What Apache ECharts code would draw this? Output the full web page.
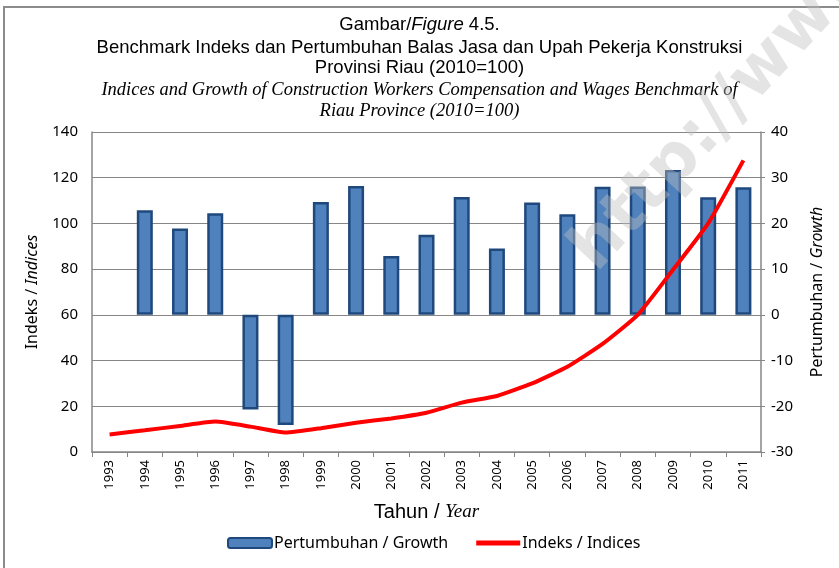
<!DOCTYPE html>
<html>
<head>
<meta charset="utf-8">
<script src="https://cdn.jsdelivr.net/npm/echarts@6/dist/echarts.min.js"></script>
<style>
  html, body { margin: 0; padding: 0; background: #fff; }
  #chart { width: 839px; height: 568px; }
</style>
</head>
<body>
<div id="chart"></div>
<script>
  // data
  const years = ['1993', '1994', '1995', '1996', '1997', '1998', '1999', '2000', '2001', '2002',
    '2003', '2004', '2005', '2006', '2007', '2008', '2009', '2010', '2011']
  // Pertumbuhan / Growth (right axis, %)
  const growth = [null, 22.9, 18.9, 22.2, -20.7, -24.1, 24.7, 28.2, 12.9, 17.5,
    25.8, 14.5, 24.6, 22.0, 28.0, 28.1, 31.7, 25.7, 27.9]
  // Indeks / Indices (left axis, 2010=100)
  const indices = [7.7, 9.5, 11.4, 13.3, 11.1, 8.5, 10.4, 12.8, 14.7, 17.2,
    21.6, 24.5, 30.0, 37.3, 47.3, 60.0, 79.7, 100.0, 127.6]
  const leftTicks = [0, 140, 20]
  const rightTicks = [-30, 40, 10]

  const sans = 'Noto Sans'
  const narrow = '"Liberation Sans Narrow", "Liberation Sans", sans-serif'
  const serif = '"Liberation Serif", serif'

  // one title entry per line, each centred
  const titleLine = (text, top, rich) => ({
    left: 'center',
    top: top,
    text: text,
    textStyle: { rich: rich }
  })
  const plain = {
    a: { fontFamily: narrow, fontSize: 18.5, fontWeight: 'normal', color: '#000' },
    ai: { fontFamily: narrow, fontSize: 18.5, fontWeight: 'normal', fontStyle: 'italic', color: '#000' }
  }
  const ital = {
    s: { fontFamily: serif, fontSize: 18.5, fontWeight: 'normal', fontStyle: 'italic', color: '#000' }
  }

  const chart = echarts.init(document.getElementById('chart'))
  chart.setOption({
    backgroundColor: '#fff',
    animation: false,
    title: [
      titleLine('{a|Gambar/}{ai|Figure}{a| 4.5.}', 10, plain),
      titleLine('{a|Benchmark Indeks dan Pertumbuhan Balas Jasa dan Upah Pekerja Konstruksi}', 33, plain),
      titleLine('{a|Provinsi Riau (2010=100)}', 53, plain),
      titleLine('{s|Indices and Growth of Construction Workers Compensation and Wages Benchmark of}', 76, ital),
      titleLine('{s|Riau Province (2010=100)}', 97, ital)
    ],
    graphic: [
      {
        type: 'rect',
        shape: { x: 4, y: 7, width: 900, height: 700 },
        style: { fill: 'none', stroke: '#8c8c8c', lineWidth: 2 },
        silent: true
      },
      {
        type: 'text',
        x: 608,
        y: 284,
        rotation: Math.PI * 47 / 180,
        z: 100,
        style: {
          text: 'http://www.bps.go.id',
          font: 'bold 66px "DejaVu Sans"',
          verticalAlign: 'bottom',
          fill: 'rgba(190,190,190,0.42)'
        },
        silent: true
      }
    ],
    legend: {
      left: 222,
      top: 530,
      itemWidth: 44,
      itemHeight: 10,
      itemGap: 28,
      textStyle: { fontFamily: sans, fontSize: 16, color: '#000', padding: [0, 0, 0, -3] },
      data: [
        { name: 'Pertumbuhan / Growth' },
        { name: 'Indeks / Indices', icon: 'path://M0,0 L44,0 L44,5 L0,5 Z' }
      ]
    },
    grid: {
      left: 92,
      right: 78,
      top: 132,
      bottom: 116
    },
    xAxis: {
      type: 'category',
      data: years,
      boundaryGap: true,
      name: '{a|Tahun / }{b|Year}',
      nameLocation: 'middle',
      nameGap: 50,
      nameTextStyle: {
        rich: {
          a: { fontFamily: narrow, fontSize: 20, color: '#000' },
          b: { fontFamily: serif, fontSize: 19, fontStyle: 'italic', color: '#000' }
        }
      },
      axisLine: { lineStyle: { color: '#868686', width: 1.5 } },
      axisTick: { show: true, alignWithLabel: false, length: 5, lineStyle: { color: '#868686' } },
      axisLabel: { rotate: 90, interval: 0, fontFamily: sans, fontSize: 13, color: '#000', margin: 8 },
      splitLine: { show: false }
    },
    yAxis: [
      {
        type: 'value',
        min: leftTicks[0],
        max: leftTicks[1],
        interval: leftTicks[2],
        name: '{a|Indeks / }{b|Indices}',
        nameLocation: 'middle',
        nameRotate: 90,
        nameGap: 52,
        nameTextStyle: {
          rich: {
            a: { fontFamily: sans, fontSize: 16, color: '#000' },
            b: { fontFamily: sans, fontSize: 16, fontStyle: 'italic', color: '#000' }
          }
        },
        axisLine: { show: true, lineStyle: { color: '#868686', width: 1.5 } },
        axisTick: { show: false },
        axisLabel: { fontFamily: sans, fontSize: 15, color: '#000', margin: 14 },
        splitLine: { show: true, lineStyle: { color: '#868686', width: 1.2 } }
      },
      {
        type: 'value',
        position: 'right',
        min: rightTicks[0],
        max: rightTicks[1],
        interval: rightTicks[2],
        name: '{a|Pertumbuhan / }{b|Growth}',
        nameLocation: 'middle',
        nameRotate: 90,
        nameGap: 48,
        nameTextStyle: {
          rich: {
            a: { fontFamily: sans, fontSize: 16, color: '#000' },
            b: { fontFamily: sans, fontSize: 16, fontStyle: 'italic', color: '#000' }
          }
        },
        axisLine: { show: true, lineStyle: { color: '#868686', width: 1.5 } },
        axisTick: { show: true, inside: false, length: 4, lineStyle: { color: '#868686' } },
        axisLabel: { fontFamily: sans, fontSize: 15, color: '#000', margin: 10 },
        splitLine: { show: false }
      }
    ],
    series: [
      {
        name: 'Pertumbuhan / Growth',
        type: 'bar',
        yAxisIndex: 1,
        barWidth: 16,
        itemStyle: {
          color: '#4f81bd',
          borderColor: '#1f497d',
          borderWidth: 2.5
        },
        data: growth
      },
      {
        name: 'Indeks / Indices',
        type: 'line',
        yAxisIndex: 0,
        symbol: 'none',
        smooth: 0.15,
        lineStyle: { color: '#ff0000', width: 4 },
        itemStyle: { color: '#ff0000' },
        data: indices
      }
    ]
  })
</script>
</body>
</html>
